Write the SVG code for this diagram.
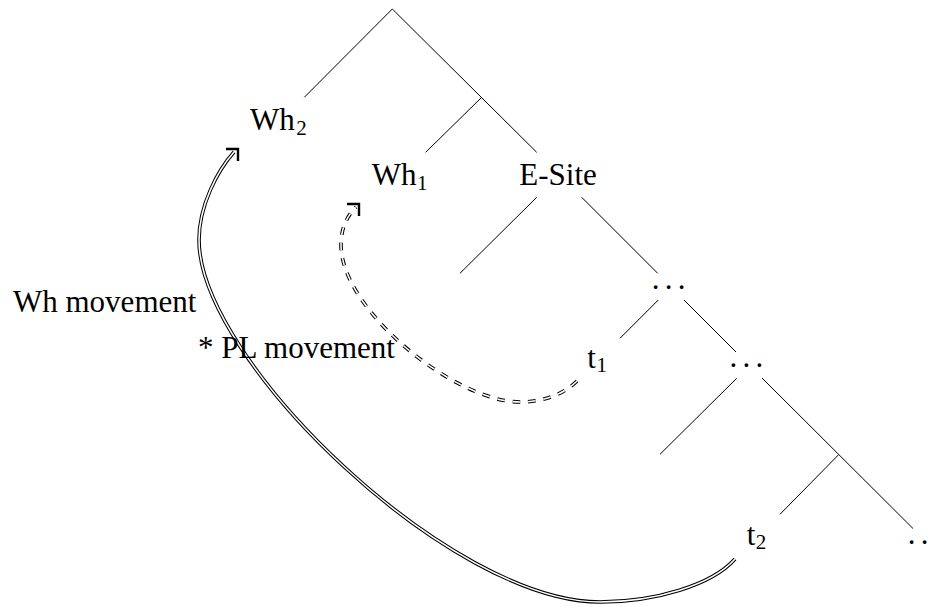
<svg xmlns="http://www.w3.org/2000/svg" width="933" height="607" viewBox="0 0 933 607">
<style>
.lbl{font-family:"Liberation Serif","Times New Roman",serif;font-size:31px;fill:#000}
.sub{font-size:21px}
.dots{letter-spacing:5.25px}
.edge{stroke:#000;stroke-width:1;fill:none;stroke-linecap:butt}
.dblo{stroke:#000;stroke-width:3.6;fill:none}
.dbli{stroke:#fff;stroke-width:1.55;fill:none}
.dash{stroke-dasharray:7.75 7.75}
.head{stroke:#000;stroke-width:2.4;fill:none;stroke-linejoin:miter;stroke-linecap:butt}
</style>
<defs>
<path id="ah" d="M -8.5 -8.5 L 0 0 L -8.5 8.5"/>
</defs>
<rect width="933" height="607" fill="#fff"/>
<g id="connectors">
  <g id="tree-edges" class="edge">
    <line x1="392.3" y1="9" x2="304.3" y2="97.3"/>
    <line x1="392.3" y1="9" x2="536.7" y2="152.3"/>
    <line x1="481.7" y1="97.3" x2="425.7" y2="152.3"/>
    <line x1="536.7" y1="197.3" x2="460" y2="273.3"/>
    <line x1="581.7" y1="197.3" x2="657.7" y2="273.3"/>
    <line x1="658.3" y1="300" x2="620" y2="338.3"/>
    <line x1="684" y1="300" x2="736" y2="352"/>
    <line x1="736.7" y1="378.3" x2="660" y2="454.3"/>
    <line x1="762" y1="378" x2="913" y2="528.5"/>
    <line x1="838.3" y1="455" x2="780" y2="514.3"/>
  </g>
  <g id="wh-movement">
    <path class="dblo" d="M 735 559 C 712 585 655 602 600 602 C 450 602 199 360 199 240 C 199 205 218 170 234 152"/>
    <path class="dbli" d="M 735 559 C 712 585 655 602 600 602 C 450 602 199 360 199 240 C 199 205 218 170 234 152"/>
    <use href="#ah" class="head" transform="translate(238,149) rotate(-45)"/>
  </g>
  <g id="pl-movement">
    <path class="dblo dash" d="M 577 381 C 562 396 540 402 520 402 C 455 402 341 310 341 245 C 341 228 347 216 356 207"/>
    <path class="dbli dash" d="M 577 381 C 562 396 540 402 520 402 C 455 402 341 310 341 245 C 341 228 347 216 356 207"/>
    <use href="#ah" class="head" transform="translate(359,204) rotate(-45)"/>
  </g>
</g>
<g id="node-wh2"><text class="lbl" x="250" y="130">Wh<tspan class="sub" dx="1.5" dy="4.5">2</tspan></text></g>
<g id="node-wh1"><text class="lbl" x="371.7" y="185">Wh<tspan class="sub" dx="0.5" dy="4.5">1</tspan></text></g>
<g id="node-esite"><text class="lbl" x="519.3" y="185">E-Site</text></g>
<g id="node-dots1"><text class="lbl dots" x="651.8" y="289">...</text></g>
<g id="node-t1"><text class="lbl" x="587.3" y="368">t<tspan class="sub" dx="0.5" dy="4">1</tspan></text></g>
<g id="node-dots2"><text class="lbl dots" x="729.4" y="366.5">...</text></g>
<g id="node-t2"><text class="lbl" x="746.7" y="545">t<tspan class="sub" dx="0.5" dy="4">2</tspan></text></g>
<g id="node-dots3"><text class="lbl dots" x="907.8" y="544">..</text></g>
<g id="label-wh"><text class="lbl" x="13" y="312">Wh movement</text></g>
<g id="label-pl"><text class="lbl" x="198" y="358">* PL movement</text></g>
</svg>
